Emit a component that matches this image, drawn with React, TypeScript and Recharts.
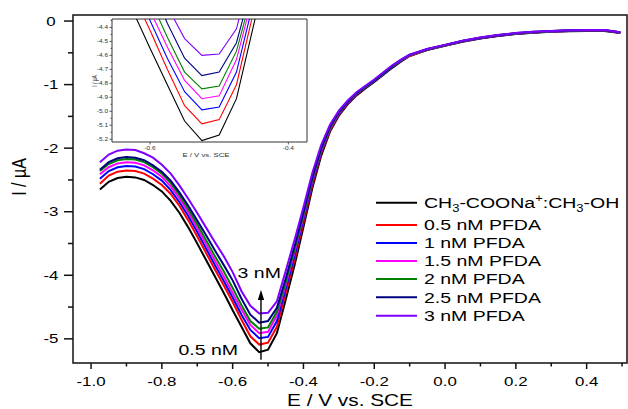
import React from "react";
import {
  LineChart,
  Line,
  XAxis,
  YAxis,
  ReferenceArea,
  ReferenceLine,
  ReferenceDot,
} from "recharts";

const FONT = "'Liberation Sans', Arial, Helvetica, sans-serif";
// the source figure is stretched horizontally, so text gets widened too
const STRETCH = 1.3;

// potential, V vs. SCE
const POTENTIAL = [
  -0.975, -0.95, -0.925, -0.9, -0.875, -0.85, -0.825, -0.8, -0.775, -0.75,
  -0.725, -0.7, -0.675, -0.65, -0.625, -0.6, -0.575, -0.55, -0.525, -0.5,
  -0.475, -0.45, -0.425, -0.4, -0.375, -0.35, -0.325, -0.3, -0.275, -0.25,
  -0.225, -0.2, -0.175, -0.15, -0.125, -0.1, -0.05, 0, 0.05, 0.1,
  0.15, 0.2, 0.25, 0.3, 0.35, 0.4, 0.45, 0.495,
];

// current, µA
const BLANK = [
  -2.65, -2.53, -2.47, -2.45, -2.46, -2.5, -2.58, -2.68, -2.83, -3.02,
  -3.25, -3.5, -3.76, -4.02, -4.28, -4.55, -4.81, -5.07, -5.21, -5.17,
  -4.91, -4.38, -3.84, -3.24, -2.63, -2.12, -1.74, -1.49, -1.31, -1.17,
  -1.06, -0.96, -0.85, -0.74, -0.64, -0.55, -0.455, -0.39, -0.325, -0.275,
  -0.235, -0.205, -0.185, -0.17, -0.16, -0.155, -0.155, -0.19,
];
const PFDA_05 = [
  -2.56, -2.43, -2.37, -2.35, -2.36, -2.4, -2.48, -2.58, -2.72, -2.91,
  -3.14, -3.39, -3.65, -3.91, -4.16, -4.42, -4.7, -4.96, -5.09, -5.06,
  -4.81, -4.28, -3.75, -3.17, -2.58, -2.08, -1.72, -1.47, -1.3, -1.16,
  -1.05, -0.95, -0.84, -0.73, -0.63, -0.55, -0.45, -0.385, -0.32, -0.27,
  -0.23, -0.2, -0.18, -0.165, -0.155, -0.15, -0.15, -0.185,
];
const PFDA_1 = [
  -2.48, -2.36, -2.3, -2.28, -2.29, -2.33, -2.41, -2.51, -2.66, -2.85,
  -3.07, -3.32, -3.58, -3.84, -4.09, -4.35, -4.62, -4.86, -4.99, -4.97,
  -4.72, -4.21, -3.69, -3.12, -2.54, -2.06, -1.7, -1.46, -1.29, -1.15,
  -1.05, -0.95, -0.84, -0.73, -0.63, -0.54, -0.45, -0.385, -0.32, -0.27,
  -0.23, -0.2, -0.18, -0.165, -0.155, -0.15, -0.15, -0.185,
];
const PFDA_15 = [
  -2.41, -2.3, -2.24, -2.22, -2.23, -2.27, -2.35, -2.45, -2.6, -2.79,
  -3.01, -3.26, -3.51, -3.77, -4.02, -4.28, -4.54, -4.78, -4.91, -4.89,
  -4.63, -4.15, -3.63, -3.08, -2.51, -2.04, -1.69, -1.45, -1.28, -1.14,
  -1.04, -0.94, -0.83, -0.72, -0.62, -0.54, -0.445, -0.38, -0.315, -0.265,
  -0.225, -0.195, -0.175, -0.16, -0.15, -0.145, -0.145, -0.18,
];
const PFDA_2 = [
  -2.36, -2.25, -2.19, -2.17, -2.18, -2.22, -2.3, -2.4, -2.55, -2.74,
  -2.96, -3.2, -3.45, -3.7, -3.94, -4.2, -4.47, -4.72, -4.84, -4.82,
  -4.57, -4.11, -3.59, -3.05, -2.49, -2.02, -1.68, -1.44, -1.27, -1.14,
  -1.04, -0.94, -0.83, -0.72, -0.62, -0.54, -0.445, -0.38, -0.315, -0.265,
  -0.225, -0.195, -0.175, -0.16, -0.15, -0.145, -0.145, -0.18,
];
const PFDA_25 = [
  -2.34, -2.22, -2.16, -2.14, -2.15, -2.19, -2.27, -2.37, -2.51, -2.7,
  -2.91, -3.14, -3.37, -3.61, -3.84, -4.08, -4.37, -4.62, -4.745, -4.72,
  -4.51, -4.05, -3.54, -3.01, -2.46, -2.0, -1.66, -1.43, -1.27, -1.13,
  -1.03, -0.93, -0.82, -0.71, -0.61, -0.53, -0.44, -0.375, -0.31, -0.26,
  -0.22, -0.19, -0.17, -0.155, -0.145, -0.14, -0.14, -0.175,
];
const PFDA_3 = [
  -2.22, -2.1, -2.04, -2.02, -2.03, -2.08, -2.15, -2.26, -2.4, -2.59,
  -2.8, -3.02, -3.25, -3.48, -3.7, -3.95, -4.25, -4.48, -4.6, -4.59,
  -4.41, -3.93, -3.44, -2.93, -2.39, -1.95, -1.63, -1.41, -1.25, -1.12,
  -1.02, -0.92, -0.81, -0.7, -0.61, -0.53, -0.44, -0.375, -0.31, -0.26,
  -0.22, -0.19, -0.17, -0.155, -0.145, -0.14, -0.14, -0.175,
];

// "_" = subscript, "^" = superscript for the next character
const LABELS = [
  "CH_3-COONa^+:CH_3-OH",
  "0.5 nM PFDA",
  "1 nM PFDA",
  "1.5 nM PFDA",
  "2 nM PFDA",
  "2.5 nM PFDA",
  "3 nM PFDA",
];
const COLORS = ["#000000", "#ff0000", "#0000ff", "#ff00ff", "#008000", "#000080", "#8000ff"];

const SERIES = [BLANK, PFDA_05, PFDA_1, PFDA_15, PFDA_2, PFDA_25, PFDA_3].map((values, i) => ({
  key: "s" + i,
  values,
  label: LABELS[i],
  color: COLORS[i],
}));

const X_TICKS = [-1.0, -0.8, -0.6, -0.4, -0.2, 0.0, 0.2, 0.4];
const X_MINOR = [-0.9, -0.7, -0.5, -0.3, -0.1, 0.1, 0.3, 0.5];
const Y_TICKS = [0, -1, -2, -3, -4, -5];
const Y_MINOR = [-0.5, -1.5, -2.5, -3.5, -4.5];
const X_DOMAIN: [number, number] = [-1.051, 0.514];
const Y_DOMAIN: [number, number] = [-5.38, 0.095];

const INSET_X_TICKS = [-0.6, -0.4];
const INSET_Y_TICKS = [-4.4, -4.5, -4.6, -4.7, -4.8, -4.9, -5.0, -5.1, -5.2];
const INSET_Y_MINOR = [-4.35, -4.45, -4.55, -4.65, -4.75, -4.85, -4.95, -5.05, -5.15];
const INSET_X_DOMAIN: [number, number] = [-0.655, -0.373];
const INSET_Y_DOMAIN: [number, number] = [-5.22, -4.34];

const rows = POTENTIAL.map((e, i) => {
  const r: Record<string, number> = { e };
  SERIES.forEach((s) => (r[s.key] = s.values[i]));
  return r;
});

const isIn = (list: number[], v: number) => list.some((t) => Math.abs(t - v) < 1e-6);
const sortNum = (a: number[]) => [...a].sort((p, q) => p - q);

function MainXTick(props: any) {
  const { x, y, payload } = props;
  const major = isIn(X_TICKS, payload.value);
  return (
    <g>
      <line x1={x} x2={x} y1={y} y2={y + (major ? 6 : 3.5)} stroke="#111" strokeWidth={1.5} />
      {major && (
        <text
          transform={`translate(${x},${y + 23}) scale(${STRETCH},1)`}
          textAnchor="middle"
          fontSize={13}
          fontFamily={FONT}
          fill="#000"
        >
          {payload.value.toFixed(1)}
        </text>
      )}
    </g>
  );
}

function MainYTick(props: any) {
  const { x, y, payload } = props;
  const major = isIn(Y_TICKS, payload.value);
  return (
    <g>
      <line x1={x} x2={x - (major ? 9 : 5)} y1={y} y2={y} stroke="#111" strokeWidth={1.5} />
      {major && (
        <text
          transform={`translate(${x - 22},${y + 4.5}) scale(${STRETCH},1)`}
          textAnchor="middle"
          fontSize={13}
          fontFamily={FONT}
          fill="#000"
        >
          {String(payload.value)}
        </text>
      )}
    </g>
  );
}

function InsetXTick(props: any) {
  const { x, y, payload } = props;
  return (
    <g>
      <line x1={x} x2={x} y1={y} y2={y + 2.5} stroke="#333" strokeWidth={0.8} />
      <text
        transform={`translate(${x},${y + 7.5}) scale(${STRETCH},1)`}
        textAnchor="middle"
        fontSize={5}
        fontFamily={FONT}
        fill="#333"
      >
        {payload.value.toFixed(1)}
      </text>
    </g>
  );
}

function InsetYTick(props: any) {
  const { x, y, payload } = props;
  const major = isIn(INSET_Y_TICKS, payload.value);
  return (
    <g>
      <line x1={x} x2={x - (major ? 2.5 : 1.5)} y1={y} y2={y} stroke="#333" strokeWidth={0.8} />
      {major && (
        <text
          transform={`translate(${x - 4},${y + 1.8}) scale(${STRETCH},1)`}
          textAnchor="end"
          fontSize={5}
          fontFamily={FONT}
          fill="#333"
        >
          {payload.value.toFixed(1)}
        </text>
      )}
    </g>
  );
}

function ArrowShape(props: any) {
  const { x1, y1, x2, y2 } = props;
  return (
    <g>
      <line x1={x1} y1={y1} x2={x2} y2={y2 + 8} stroke="#000" strokeWidth={1.4} />
      <polygon points={`${x2},${y2} ${x2 - 3.2},${y2 + 10} ${x2 + 3.2},${y2 + 10}`} fill="#000" />
    </g>
  );
}

const noteShape = (text: string, anchor: "middle" | "end") => (p: any) => (
  <text
    transform={`translate(${p.cx},${p.cy}) scale(${STRETCH},1)`}
    textAnchor={anchor}
    fontSize={15}
    fontFamily={FONT}
    fill="#000"
  >
    {text}
  </text>
);

// splits "CH_3-COONa^+" into tspans, shifting back to the baseline after each script
function RichLabel({ text }: { text: string }) {
  const parts: React.ReactNode[] = [];
  let plain = "";
  let back = 0;
  let k = 0;
  const flush = () => {
    if (!plain) return;
    parts.push(
      <tspan key={k++} dy={back || undefined}>
        {plain}
      </tspan>
    );
    plain = "";
    back = 0;
  };
  for (let i = 0; i < text.length; i++) {
    const c = text[i];
    if ((c === "_" || c === "^") && i + 1 < text.length) {
      flush();
      const d = c === "_" ? 4 : -6;
      parts.push(
        <tspan key={k++} dy={d + back} fontSize={10}>
          {text[i + 1]}
        </tspan>
      );
      back = -d;
      i++;
    } else {
      plain += c;
    }
  }
  flush();
  return <>{parts}</>;
}

const LEGEND_ROWS = [202.7, 225, 243, 261, 279, 297.3, 315.7];

export default function App() {
  return (
    <div style={{ position: "absolute", left: 0, top: 0, width: 628, height: 409, background: "#fff" }}>
      <div style={{ position: "absolute", left: 0, top: 0 }}>
        <LineChart width={628} height={409} data={rows} margin={{ top: 15, right: 1, bottom: 0, left: 0 }}>
          <XAxis
            type="number"
            dataKey="e"
            domain={X_DOMAIN}
            allowDataOverflow
            ticks={sortNum([...X_TICKS, ...X_MINOR])}
            interval={0}
            height={46}
            tickSize={0}
            tickMargin={0}
            axisLine={false}
            tickLine={false}
            tick={(p: any) => <MainXTick {...p} />}
          />
          <YAxis
            type="number"
            domain={Y_DOMAIN}
            allowDataOverflow
            ticks={sortNum([...Y_TICKS, ...Y_MINOR])}
            interval={0}
            width={73}
            tickSize={0}
            tickMargin={0}
            axisLine={false}
            tickLine={false}
            tick={(p: any) => <MainYTick {...p} />}
          />
          <ReferenceArea
            x1={X_DOMAIN[0]}
            x2={X_DOMAIN[1]}
            y1={Y_DOMAIN[0]}
            y2={Y_DOMAIN[1]}
            fill="none"
            stroke="#111"
            strokeWidth={1.5}
            ifOverflow="visible"
          />
          {SERIES.map((s) => (
            <Line
              key={s.key}
              type="linear"
              dataKey={s.key}
              stroke={s.color}
              strokeWidth={2}
              dot={false}
              isAnimationActive={false}
            />
          ))}
          <ReferenceLine
            segment={[
              { x: -0.52, y: -5.33 },
              { x: -0.52, y: -4.23 },
            ]}
            ifOverflow="visible"
            shape={(p: any) => <ArrowShape {...p} />}
          />
          <ReferenceDot x={-0.525} y={-4.04} r={0} ifOverflow="visible" shape={noteShape("3 nM", "middle")} />
          <ReferenceDot x={-0.585} y={-5.25} r={0} ifOverflow="visible" shape={noteShape("0.5 nM", "end")} />
        </LineChart>
      </div>

      <div style={{ position: "absolute", left: 0, top: 0 }}>
        <LineChart width={628} height={409} data={rows} margin={{ top: 19, right: 321, bottom: 0, left: 0 }}>
          <XAxis
            type="number"
            dataKey="e"
            domain={INSET_X_DOMAIN}
            allowDataOverflow
            ticks={INSET_X_TICKS}
            interval={0}
            height={267}
            tickSize={0}
            tickMargin={0}
            axisLine={false}
            tickLine={false}
            tick={(p: any) => <InsetXTick {...p} />}
          />
          <YAxis
            type="number"
            domain={INSET_Y_DOMAIN}
            allowDataOverflow
            ticks={sortNum([...INSET_Y_TICKS, ...INSET_Y_MINOR])}
            interval={0}
            width={112}
            tickSize={0}
            tickMargin={0}
            axisLine={false}
            tickLine={false}
            tick={(p: any) => <InsetYTick {...p} />}
          />
          <ReferenceArea
            x1={INSET_X_DOMAIN[0]}
            x2={INSET_X_DOMAIN[1]}
            y1={INSET_Y_DOMAIN[0]}
            y2={INSET_Y_DOMAIN[1]}
            fill="none"
            stroke="#333"
            strokeWidth={1}
            ifOverflow="visible"
          />
          {SERIES.map((s) => (
            <Line
              key={s.key}
              type="linear"
              dataKey={s.key}
              stroke={s.color}
              strokeWidth={1.1}
              dot={false}
              isAnimationActive={false}
            />
          ))}
        </LineChart>
      </div>

      <svg
        width={628}
        height={409}
        style={{ position: "absolute", left: 0, top: 0, pointerEvents: "none" }}
        fontFamily={FONT}
      >
        <text transform={`translate(350,406) scale(${STRETCH},1)`} textAnchor="middle" fontSize={16} fill="#000">
          E / V vs. SCE
        </text>
        <text
          transform={`translate(25.5,177) scale(${STRETCH},1) rotate(-90)`}
          textAnchor="middle"
          fontSize={16}
          fill="#000"
        >
          I / µA
        </text>
        <text transform={`translate(206,157) scale(${STRETCH},1)`} textAnchor="middle" fontSize={6} fill="#333">
          E / V vs. SCE
        </text>
        <text
          transform={`translate(96.5,81) scale(${STRETCH},1) rotate(-90)`}
          textAnchor="middle"
          fontSize={5}
          fill="#333"
        >
          I / µA
        </text>
        {SERIES.map((s, i) => (
          <g key={s.key}>
            <line x1={376} x2={417} y1={LEGEND_ROWS[i]} y2={LEGEND_ROWS[i]} stroke={s.color} strokeWidth={2} />
            <text
              transform={`translate(424,${LEGEND_ROWS[i] + 5.3}) scale(${STRETCH},1)`}
              fontSize={15}
              fill="#000"
            >
              <RichLabel text={s.label} />
            </text>
          </g>
        ))}
      </svg>
    </div>
  );
}
